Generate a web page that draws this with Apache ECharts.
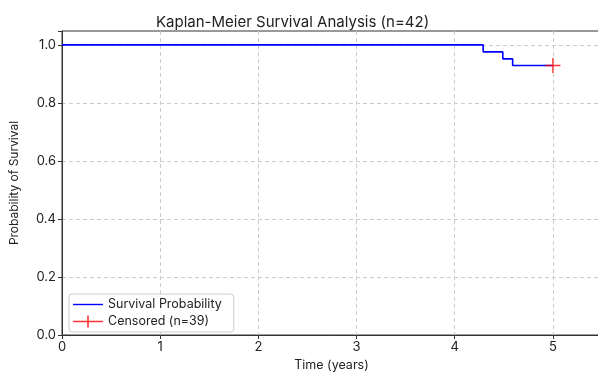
<!DOCTYPE html>
<html>
<head>
<meta charset="utf-8">
<script src="https://cdn.jsdelivr.net/npm/echarts@6/dist/echarts.min.js"></script>
<style>
  html, body { margin: 0; padding: 0; background: #fff; }
  #main { width: 598px; height: 372px; }
</style>
</head>
<body>
<div id="main"></div>
<script>
// survival curve (time in years, probability)
var survTimes = [0, 4.29, 4.49, 4.59, 5.0];
var survProb = [1.0, 0.976, 0.952, 0.929, 0.929];
// censored observations
var censTimes = [5.0];
var censProb = [0.929];
var xTicks = [0, 1, 2, 3, 4, 5];

var survData = [];
for (var i = 0; i < survTimes.length; i++) {
    survData.push([survTimes[i], survProb[i]]);
}
var censData = [];
for (var j = 0; j < censTimes.length; j++) {
    censData.push([censTimes[j], censProb[j]]);
}

var font = 'Inter';
var plusPath = 'path://M-0.09,-1H0.09V-0.09H1V0.09H0.09V1H-0.09V0.09H-1V-0.09H-0.09Z';

var myChart = echarts.init(document.getElementById('main'));

var option = {
    animation: false,
    title: {
        text: 'Kaplan-Meier Survival Analysis (n=42)',
        left: 151,
        top: 10,
        textStyle: {
            fontFamily: font,
            fontSize: 15,
            fontWeight: 'normal',
            color: '#222'
        }
    },
    grid: {
        left: 62,
        right: -3,
        top: 31,
        bottom: 37,
        outerBoundsMode: 'none',
        containLabel: false,
        show: true,
        borderColor: '#333',
        borderWidth: 1
    },
    legend: {
        left: 69,
        top: 294,
        orient: 'vertical',
        itemWidth: 30,
        itemHeight: 12,
        itemGap: 4,
        padding: [4, 12, 4, 4],
        borderColor: '#ccc',
        borderWidth: 1,
        borderRadius: 3,
        backgroundColor: 'rgba(255,255,255,0.8)',
        textStyle: { fontFamily: font, fontSize: 12.5, color: '#222' },
        data: [
            { name: 'Survival Probability', icon: 'path://M0,5.3H30V6.7H0Z' },
            { name: 'Censored (n=39)', icon: 'path://M0,5.3H14.2V0H15.8V5.3H30V6.7H15.8V12H14.2V6.7H0Z' }
        ]
    },
    xAxis: {
        type: 'value',
        min: 0,
        max: 5.49,
        interval: 1,
        name: 'Time (years)',
        nameLocation: 'middle',
        nameGap: 24,
        nameTextStyle: { fontFamily: font, fontSize: 12.5, color: '#222' },
        axisLine: { show: true, lineStyle: { color: '#333' } },
        axisTick: { show: true, length: 4, lineStyle: { color: '#333' } },
        axisLabel: {
            fontFamily: font, fontSize: 13, color: '#222', margin: 6,
            formatter: function (v) {
                return xTicks.indexOf(v) >= 0 ? String(v) : '';
            }
        },
        splitLine: { show: true, showMinLine: false, showMaxLine: false, lineStyle: { color: '#ccc', type: [4, 3] } }
    },
    yAxis: {
        type: 'value',
        min: 0,
        max: 1.048,
        interval: 0.2,
        name: 'Probability of Survival',
        nameLocation: 'middle',
        nameGap: 42,
        nameTextStyle: { fontFamily: font, fontSize: 12, color: '#222' },
        axisLine: { show: true, lineStyle: { color: '#333' } },
        axisTick: { show: true, length: 4, lineStyle: { color: '#333' } },
        axisLabel: {
            fontFamily: font, fontSize: 13, color: '#222', margin: 6,
            formatter: function (v) {
                return v > 1.0001 ? '' : v.toFixed(1);
            }
        },
        splitLine: { show: true, showMinLine: false, showMaxLine: false, lineStyle: { color: '#ccc', type: [4, 3] } }
    },
    series: [
        {
            name: 'Survival Probability',
            type: 'line',
            step: 'end',
            data: survData,
            symbol: 'none',
            lineStyle: { color: '#0000ff', width: 1.6 },
            itemStyle: { color: '#0000ff' },
            z: 2
        },
        {
            name: 'Censored (n=39)',
            type: 'scatter',
            data: censData,
            symbol: plusPath,
            symbolSize: 15,
            itemStyle: { color: '#ff0000' },
            z: 3
        }
    ]
};

myChart.setOption(option);
</script>
</body>
</html>
